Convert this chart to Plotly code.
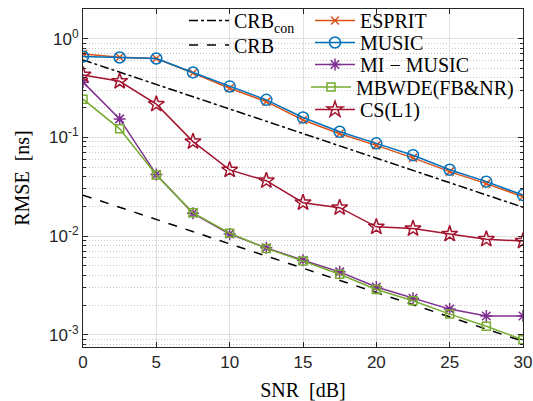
import plotly.graph_objects as go

snr = [0, 2.5, 5, 7.5, 10, 12.5, 15, 17.5, 20, 22.5, 25, 27.5, 30]
crb_snr = [0, 30]
crb_con = [0.61, 0.0196]
crb = [0.026, 0.00086]
esprit = [0.70, 0.65, 0.63, 0.45, 0.315, 0.23, 0.15, 0.109, 0.083, 0.062, 0.045, 0.034, 0.025]
music = [0.66, 0.645, 0.63, 0.455, 0.328, 0.24, 0.159, 0.114, 0.087, 0.066, 0.047, 0.0356, 0.026]
mi_music = [0.363, 0.154, 0.042, 0.017, 0.0105, 0.0076, 0.0057, 0.00434, 0.00305, 0.00234, 0.00182, 0.00155, 0.00155]
mbwde = [0.244, 0.122, 0.0416, 0.0172, 0.0107, 0.0075, 0.0056, 0.0041, 0.00288, 0.00221, 0.00162, 0.00122, 0.00089]
cs_l1 = [0.43, 0.37, 0.217, 0.0906, 0.0468, 0.0364, 0.0218, 0.0194, 0.0124, 0.0119, 0.0105, 0.0093, 0.0089]

x_ticks = [0, 5, 10, 15, 20, 25, 30]
y_tickvals = [1e-3, 1e-2, 1e-1, 1]
y_ticktext = ["10<sup>-3</sup>", "10<sup>-2</sup>", "10<sup>-1</sup>", "10<sup>0</sup>"]

W, H = 533, 401
ML, MR, MT, MB = 83, 10, 9, 54
PW, PH = W - ML - MR, H - MT - MB

def px2paper(px, py):
    return (px - ML) / PW, (H - MB - py) / PH

serif = "Liberation Serif"
sans = "Liberation Sans"

fig = go.Figure()

series = [
    ("CRB<sub>con</sub>", crb_snr, crb_con, dict(color="black", width=1.5, dash="dashdot"), None, "legend"),
    ("CRB", crb_snr, crb, dict(color="black", width=1.5, dash="dash"), None, "legend2"),
    ("ESPRIT", snr, esprit, dict(color="#D95319", width=1.5), dict(symbol="x-thin-open", size=8, line=dict(color="#D95319", width=1.5)), "legend3"),
    ("MUSIC", snr, music, dict(color="#0072BD", width=1.5), dict(symbol="circle-open", size=11, line=dict(color="#0072BD", width=1.5)), "legend4"),
    ("MI \u2212 MUSIC", snr, mi_music, dict(color="#7E2F8E", width=1.5), dict(symbol="asterisk-open", size=10, line=dict(color="#7E2F8E", width=1.5)), "legend5"),
    ("MBWDE(FB&NR)", snr, mbwde, dict(color="#77AC30", width=1.5), dict(symbol="square-open", size=8, line=dict(color="#77AC30", width=1.5)), "legend6"),
    ("CS(L1)", snr, cs_l1, dict(color="#A2142F", width=1.5), dict(symbol="star-open", size=12, line=dict(color="#A2142F", width=1.5)), "legend7"),
]

for name, xs, ys, line, marker, lg in series:
    fig.add_trace(go.Scatter(
        x=xs, y=ys, name=name, legend=lg,
        mode="lines+markers" if marker else "lines",
        line=line, marker=marker if marker else None,
    ))

# legend positions (anchor px, row center px, x anchor)
leg_pos = {
    "legend": (184, 20.5, "left"),
    "legend2": (184, 45, "left"),
    "legend3": (310, 20.5, "left"),
    "legend4": (310, 42.5, "left"),
    "legend5": (310, 64.5, "left"),
    "legend6": (519, 87.0, "right"),
    "legend7": (310, 109.5, "left"),
}
legend_layout = {}
for lg, (px, py, xa) in leg_pos.items():
    lx, ly = px2paper(px, py)
    legend_layout[lg] = dict(
        x=lx, y=ly, xanchor=xa, yanchor="middle",
        bgcolor="rgba(0,0,0,0)", borderwidth=0,
        font=dict(family=serif, size=20, color="black"),
        itemwidth=40, tracegroupgap=0,
    )

minor_vals = [k * 10 ** e for e in range(-4, 1) for k in range(2, 10)]

fig.update_layout(
    width=W, height=H,
    font=dict(family=serif, size=20, color="black"),
    margin=dict(l=ML, r=MR, t=MT, b=MB, autoexpand=False),
    paper_bgcolor="white", plot_bgcolor="white",
    showlegend=True,
    **legend_layout,
    shapes=[
        dict(type="rect", xref="paper", yref="paper", layer="between",
             x0=px2paper(187, 0)[0], x1=px2paper(306, 0)[0],
             y0=px2paper(0, 58)[1], y1=px2paper(0, 10.5)[1],
             fillcolor="white", line=dict(width=0)),
        dict(type="rect", xref="paper", yref="paper", layer="between",
             x0=px2paper(306, 0)[0], x1=px2paper(521, 0)[0],
             y0=px2paper(0, 127)[1], y1=px2paper(0, 10.5)[1],
             fillcolor="white", line=dict(width=0)),
    ],
    xaxis=dict(
        range=[0, 30], tickvals=x_ticks, ticks="inside", ticklen=5, tickcolor="#262626",
        showline=True, linecolor="#262626", linewidth=1, mirror="ticks",
        showgrid=True, gridcolor="#e0e0e0", gridwidth=1, zeroline=False, automargin=False,
        tickfont=dict(family=sans, size=17, color="#262626"),
        title=dict(text="SNR\u00a0\u00a0[dB]", font=dict(family=serif, size=20, color="black"), standoff=12),
    ),
    yaxis=dict(
        type="log", range=[-3.124, 0.301], automargin=False,
        tickvals=y_tickvals, ticktext=y_ticktext, ticks="inside", ticklen=5, tickcolor="#262626",
        showline=True, linecolor="#262626", linewidth=1, mirror="ticks",
        showgrid=True, gridcolor="#e0e0e0", gridwidth=1, zeroline=False,
        tickfont=dict(family=sans, size=17, color="#262626"),
        minor=dict(tickvals=minor_vals, ticks="inside", ticklen=3, tickcolor="#262626",
                   showgrid=True, gridcolor="#c8c8c8", griddash="1px,2px", gridwidth=1),
        title=dict(text="RMSE\u00a0\u00a0[ns]", font=dict(family=serif, size=20, color="black"), standoff=14),
    ),
)

fig.write_html("out.html", config={"displayModeBar": False},
               post_script="document.body.style.margin='0';")
